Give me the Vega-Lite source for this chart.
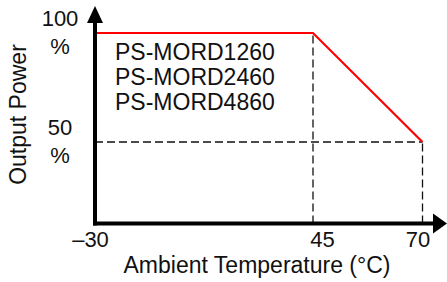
{
  "$schema": "https://vega.github.io/schema/vega-lite/v6.json",
  "width": 352,
  "height": 224,
  "padding": {"left": 95, "top": 0, "right": 0, "bottom": 58},
  "autosize": {"type": "none"},
  "background": "white",
  "config": {
    "view": {"stroke": null},
    "font": "Liberation Sans",
    "text": {"font": "Liberation Sans", "fontSize": 22, "color": "#111"}
  },
  "encoding": {
    "x": {
      "field": "x", "type": "quantitative",
      "scale": {"type": "linear", "domain": [-30, 45, 70], "range": [0, 218, 327.5], "nice": false, "zero": false, "clamp": false},
      "axis": {"domain": false, "ticks": false, "labels": false, "grid": false,
        "title": "Ambient Temperature (°C)", "titleFont": "Liberation Sans", "titleFontSize": 23, "titleFontWeight": "normal", "titleColor": "#111",
        "titleX": 161.5, "titleY": 48, "titleBaseline": "alphabetic", "titleAlign": "center"}
    },
    "y": {
      "field": "y", "type": "quantitative",
      "scale": {"type": "linear", "domain": [0, 50, 100], "range": [223.5, 142, 33], "nice": false, "zero": false, "clamp": false},
      "axis": {"domain": false, "ticks": false, "labels": false, "grid": false,
        "title": "Output Power", "titleFont": "Liberation Sans", "titleFontSize": 23, "titleFontWeight": "normal", "titleColor": "#111",
        "titleAngle": -90, "titleX": -70, "titleY": 114, "titleBaseline": "alphabetic", "titleAlign": "center"}
    }
  },
  "layer": [
    {
      "data": {"values": [
        {"x": 45, "y": 0, "x2": 45, "y2": 100},
        {"x": -30, "y": 50, "x2": 70, "y2": 50},
        {"x": 70, "y": 0, "x2": 70, "y2": 50}
      ]},
      "mark": {"type": "rule", "color": "#111", "strokeWidth": 1.3, "strokeDash": [8, 4]},
      "encoding": {"x2": {"field": "x2"}, "y2": {"field": "y2"}}
    },
    {
      "data": {"values": [
        {"x": -30, "y": 100},
        {"x": 45, "y": 100},
        {"x": 70, "y": 50}
      ]},
      "mark": {"type": "line", "color": "#ff0000", "strokeWidth": 2.2},
      "encoding": {}
    },
    {
      "data": {"values": [
        {"x": -30, "y": 0, "x2": -30, "y2": 108},
        {"x": -30, "y": 0, "x2": 73, "y2": 0}
      ]},
      "mark": {"type": "rule", "color": "#000", "strokeWidth": 4, "strokeCap": "square"},
      "encoding": {"x2": {"field": "x2"}, "y2": {"field": "y2"}}
    },
    {
      "data": {"values": [{"x": -30, "y": 108.5}]},
      "mark": {"type": "point", "filled": true, "color": "#000", "opacity": 1, "size": 289, "shape": "M0,-1L0.94,1L-0.94,1Z"},
      "encoding": {}
    },
    {
      "data": {"values": [{"x": 74, "y": 0}]},
      "mark": {"type": "point", "filled": true, "color": "#000", "opacity": 1, "size": 400, "shape": "M0.7,0L-0.7,-1L-0.7,1Z"},
      "encoding": {}
    },
    {
      "data": {"values": [
        {"x": -30, "y": 100, "label": "100\n%"},
        {"x": -30, "y": 50, "label": "50\n%"}
      ]},
      "mark": {"type": "text", "align": "center", "baseline": "alphabetic", "dx": -35, "dy": -7, "lineBreak": "\n", "lineHeight": 27.5},
      "encoding": {"text": {"field": "label"}}
    },
    {
      "data": {"values": [
        {"x": -30, "y": 0, "label": "–30"},
        {"x": 70, "y": 0, "label": "70"}
      ]},
      "mark": {"type": "text", "align": "center", "baseline": "alphabetic", "dx": -4.5, "dy": 23.5},
      "encoding": {"text": {"field": "label"}}
    },
    {
      "data": {"values": [
        {"x": 45, "y": 0, "label": "45"}
      ]},
      "mark": {"type": "text", "align": "center", "baseline": "alphabetic", "dx": 9.5, "dy": 23.5},
      "encoding": {"text": {"field": "label"}}
    },
    {
      "data": {"values": [
        {"x": -30, "y": 100, "label": "PS-MORD1260\nPS-MORD2460\nPS-MORD4860"}
      ]},
      "mark": {"type": "text", "align": "left", "baseline": "alphabetic", "dx": 20, "dy": 27, "fontSize": 23, "lineBreak": "\n", "lineHeight": 25},
      "encoding": {"text": {"field": "label"}}
    }
  ]
}
